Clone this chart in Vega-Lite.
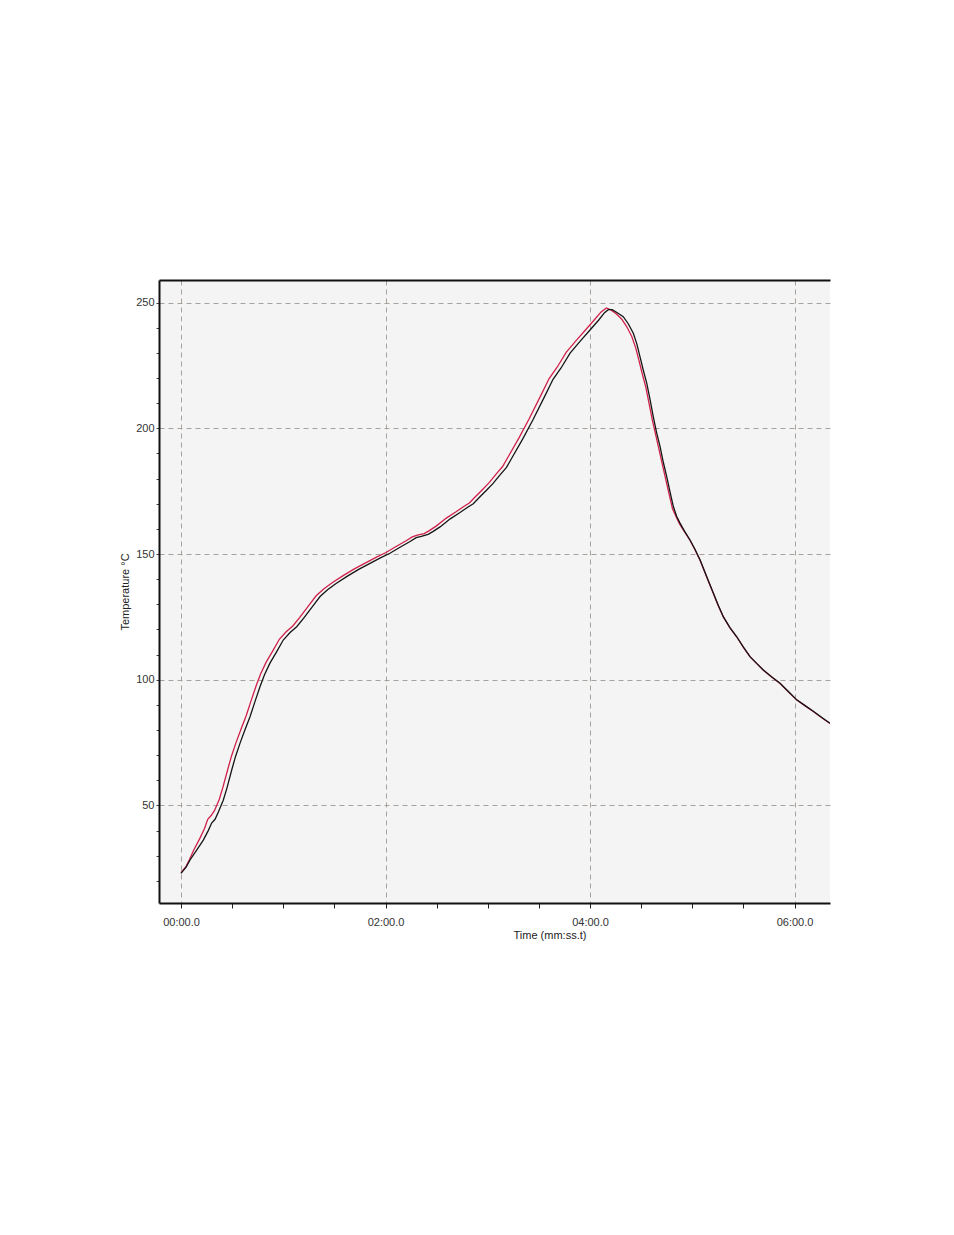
{
  "$schema": "https://vega.github.io/schema/vega-lite/v6.json",
  "autosize": {"type": "none"},
  "width": 671,
  "height": 623,
  "padding": {"left": 159, "top": 280, "right": 124, "bottom": 332},
  "background": "white",
  "view": {"fill": "#f4f4f4", "stroke": null},
  "config": {
    "font": "Liberation Sans",
    "axis": {"labelFont": "Liberation Sans", "titleFont": "Liberation Sans", "labelColor": "#333333", "titleColor": "#222222", "labelFontSize": 11, "titleFontSize": 11, "titleFontWeight": "normal"}
  },
  "data": {"values": [
    {"series": "red", "t": 0, "temp": 23.3},
    {"series": "red", "t": 3, "temp": 25.8},
    {"series": "red", "t": 5, "temp": 28.5},
    {"series": "red", "t": 7.5, "temp": 32.3},
    {"series": "red", "t": 11, "temp": 36.8},
    {"series": "red", "t": 13.8, "temp": 40.8},
    {"series": "red", "t": 15.7, "temp": 44.5},
    {"series": "red", "t": 17.7, "temp": 46},
    {"series": "red", "t": 19.7, "temp": 48},
    {"series": "red", "t": 22.5, "temp": 52.5},
    {"series": "red", "t": 24.7, "temp": 57.5},
    {"series": "red", "t": 27.5, "temp": 64.5},
    {"series": "red", "t": 29.7, "temp": 69.8},
    {"series": "red", "t": 32.3, "temp": 75},
    {"series": "red", "t": 35.2, "temp": 80.3},
    {"series": "red", "t": 38.2, "temp": 85.6},
    {"series": "red", "t": 41.2, "temp": 91.8},
    {"series": "red", "t": 44.1, "temp": 97.6},
    {"series": "red", "t": 46.7, "temp": 102.3},
    {"series": "red", "t": 49.9, "temp": 106.9},
    {"series": "red", "t": 53.7, "temp": 111.3},
    {"series": "red", "t": 57.7, "temp": 116.1},
    {"series": "red", "t": 61.7, "temp": 119.1},
    {"series": "red", "t": 65.6, "temp": 121.4},
    {"series": "red", "t": 69.7, "temp": 124.8},
    {"series": "red", "t": 74.7, "temp": 129.3},
    {"series": "red", "t": 79.3, "temp": 133.4},
    {"series": "red", "t": 83.7, "temp": 136.1},
    {"series": "red", "t": 88.7, "temp": 138.6},
    {"series": "red", "t": 94.9, "temp": 141.3},
    {"series": "red", "t": 101.7, "temp": 144.1},
    {"series": "red", "t": 108.6, "temp": 146.6},
    {"series": "red", "t": 114.7, "temp": 148.8},
    {"series": "red", "t": 120.3, "temp": 150.6},
    {"series": "red", "t": 125.7, "temp": 152.8},
    {"series": "red", "t": 132.1, "temp": 155.3},
    {"series": "red", "t": 135.7, "temp": 156.8},
    {"series": "red", "t": 138.7, "temp": 157.5},
    {"series": "red", "t": 142.7, "temp": 158.1},
    {"series": "red", "t": 145.7, "temp": 159.3},
    {"series": "red", "t": 149.7, "temp": 161.1},
    {"series": "red", "t": 155.7, "temp": 164.3},
    {"series": "red", "t": 161.4, "temp": 166.8},
    {"series": "red", "t": 165.7, "temp": 168.8},
    {"series": "red", "t": 169.2, "temp": 170.3},
    {"series": "red", "t": 172.7, "temp": 172.8},
    {"series": "red", "t": 177.1, "temp": 175.8},
    {"series": "red", "t": 180.7, "temp": 178.3},
    {"series": "red", "t": 184.9, "temp": 181.8},
    {"series": "red", "t": 188.7, "temp": 184.8},
    {"series": "red", "t": 192.5, "temp": 189.3},
    {"series": "red", "t": 198.4, "temp": 196.3},
    {"series": "red", "t": 204.3, "temp": 203.8},
    {"series": "red", "t": 211.3, "temp": 213.3},
    {"series": "red", "t": 216, "temp": 219.8},
    {"series": "red", "t": 220.7, "temp": 224.3},
    {"series": "red", "t": 226, "temp": 230.2},
    {"series": "red", "t": 231.7, "temp": 234.8},
    {"series": "red", "t": 237.7, "temp": 239.4},
    {"series": "red", "t": 242.7, "temp": 243.3},
    {"series": "red", "t": 246.5, "temp": 246.3},
    {"series": "red", "t": 249.6, "temp": 247.9},
    {"series": "red", "t": 252.5, "temp": 247},
    {"series": "red", "t": 255.5, "temp": 245.5},
    {"series": "red", "t": 258.5, "temp": 243.5},
    {"series": "red", "t": 261.5, "temp": 240.5},
    {"series": "red", "t": 264.5, "temp": 236.5},
    {"series": "red", "t": 266.8, "temp": 232},
    {"series": "red", "t": 268.7, "temp": 227},
    {"series": "red", "t": 270.7, "temp": 221.5},
    {"series": "red", "t": 272.7, "temp": 216.5},
    {"series": "red", "t": 274.6, "temp": 210},
    {"series": "red", "t": 276.5, "temp": 203.5},
    {"series": "red", "t": 278.5, "temp": 197.5},
    {"series": "red", "t": 280.5, "temp": 191.5},
    {"series": "red", "t": 282.5, "temp": 185.5},
    {"series": "red", "t": 284.5, "temp": 179.5},
    {"series": "red", "t": 286.5, "temp": 173.5},
    {"series": "red", "t": 288.4, "temp": 168},
    {"series": "red", "t": 290.5, "temp": 164.8},
    {"series": "red", "t": 292.5, "temp": 162},
    {"series": "red", "t": 295.5, "temp": 158.8},
    {"series": "red", "t": 298.7, "temp": 155.4},
    {"series": "red", "t": 301.5, "temp": 151.8},
    {"series": "red", "t": 304.6, "temp": 147.4},
    {"series": "red", "t": 308.5, "temp": 140.8},
    {"series": "red", "t": 312.4, "temp": 134.2},
    {"series": "red", "t": 315.3, "temp": 129.3},
    {"series": "red", "t": 318.2, "temp": 125},
    {"series": "red", "t": 322, "temp": 120.7},
    {"series": "red", "t": 326.1, "temp": 117},
    {"series": "red", "t": 330, "temp": 112.9},
    {"series": "red", "t": 333.9, "temp": 109.1},
    {"series": "red", "t": 337.8, "temp": 106.4},
    {"series": "red", "t": 341.7, "temp": 103.8},
    {"series": "red", "t": 346.5, "temp": 101.1},
    {"series": "red", "t": 351.5, "temp": 98.5},
    {"series": "red", "t": 356.5, "temp": 95.1},
    {"series": "red", "t": 361.3, "temp": 91.9},
    {"series": "red", "t": 366, "temp": 89.7},
    {"series": "red", "t": 371, "temp": 87.4},
    {"series": "red", "t": 376, "temp": 84.9},
    {"series": "red", "t": 380.8, "temp": 82.6},
    {"series": "black", "t": 0, "temp": 23},
    {"series": "black", "t": 3, "temp": 25.5},
    {"series": "black", "t": 5.3, "temp": 28.3},
    {"series": "black", "t": 9, "temp": 32},
    {"series": "black", "t": 13.1, "temp": 36.2},
    {"series": "black", "t": 16, "temp": 40},
    {"series": "black", "t": 18, "temp": 43},
    {"series": "black", "t": 20, "temp": 44.5},
    {"series": "black", "t": 22, "temp": 47.5},
    {"series": "black", "t": 24.8, "temp": 52.1},
    {"series": "black", "t": 27, "temp": 57},
    {"series": "black", "t": 29.8, "temp": 64.2},
    {"series": "black", "t": 32, "temp": 69.5},
    {"series": "black", "t": 34.6, "temp": 74.7},
    {"series": "black", "t": 37.5, "temp": 80},
    {"series": "black", "t": 40.5, "temp": 85.3},
    {"series": "black", "t": 43.5, "temp": 91.5},
    {"series": "black", "t": 46.4, "temp": 97.3},
    {"series": "black", "t": 49, "temp": 102},
    {"series": "black", "t": 52.2, "temp": 106.6},
    {"series": "black", "t": 56, "temp": 111},
    {"series": "black", "t": 60, "temp": 115.8},
    {"series": "black", "t": 64, "temp": 118.8},
    {"series": "black", "t": 67.9, "temp": 121.1},
    {"series": "black", "t": 72, "temp": 124.5},
    {"series": "black", "t": 77, "temp": 129},
    {"series": "black", "t": 81.6, "temp": 133.1},
    {"series": "black", "t": 86, "temp": 135.8},
    {"series": "black", "t": 91, "temp": 138.3},
    {"series": "black", "t": 97.2, "temp": 141},
    {"series": "black", "t": 104, "temp": 143.8},
    {"series": "black", "t": 110.9, "temp": 146.3},
    {"series": "black", "t": 117, "temp": 148.5},
    {"series": "black", "t": 122.6, "temp": 150.3},
    {"series": "black", "t": 128, "temp": 152.5},
    {"series": "black", "t": 134.4, "temp": 155},
    {"series": "black", "t": 138, "temp": 156.5},
    {"series": "black", "t": 141, "temp": 157},
    {"series": "black", "t": 145, "temp": 157.8},
    {"series": "black", "t": 148, "temp": 159},
    {"series": "black", "t": 152, "temp": 160.8},
    {"series": "black", "t": 158, "temp": 164},
    {"series": "black", "t": 163.7, "temp": 166.5},
    {"series": "black", "t": 168, "temp": 168.5},
    {"series": "black", "t": 171.5, "temp": 170},
    {"series": "black", "t": 175, "temp": 172.5},
    {"series": "black", "t": 179.4, "temp": 175.5},
    {"series": "black", "t": 183, "temp": 178},
    {"series": "black", "t": 187.2, "temp": 181.5},
    {"series": "black", "t": 191, "temp": 184.5},
    {"series": "black", "t": 194.8, "temp": 189},
    {"series": "black", "t": 200.7, "temp": 196},
    {"series": "black", "t": 206.6, "temp": 203.5},
    {"series": "black", "t": 213.6, "temp": 213},
    {"series": "black", "t": 218.3, "temp": 219.5},
    {"series": "black", "t": 223, "temp": 224},
    {"series": "black", "t": 228.3, "temp": 229.9},
    {"series": "black", "t": 234, "temp": 234.5},
    {"series": "black", "t": 240, "temp": 239.1},
    {"series": "black", "t": 245, "temp": 243},
    {"series": "black", "t": 248.5, "temp": 246},
    {"series": "black", "t": 250.7, "temp": 247.2},
    {"series": "black", "t": 253, "temp": 247.2},
    {"series": "black", "t": 256, "temp": 246},
    {"series": "black", "t": 259.5, "temp": 244.4},
    {"series": "black", "t": 262.5, "temp": 241.5},
    {"series": "black", "t": 265.4, "temp": 237.8},
    {"series": "black", "t": 267.5, "temp": 233.5},
    {"series": "black", "t": 269.3, "temp": 228.5},
    {"series": "black", "t": 271.3, "temp": 223},
    {"series": "black", "t": 273.3, "temp": 217.9},
    {"series": "black", "t": 275.2, "temp": 211.5},
    {"series": "black", "t": 277.1, "temp": 204.7},
    {"series": "black", "t": 279, "temp": 198.5},
    {"series": "black", "t": 281.1, "temp": 192.7},
    {"series": "black", "t": 283, "temp": 186.5},
    {"series": "black", "t": 285, "temp": 180.8},
    {"series": "black", "t": 287, "temp": 174.5},
    {"series": "black", "t": 288.9, "temp": 168.9},
    {"series": "black", "t": 290.8, "temp": 165},
    {"series": "black", "t": 292.8, "temp": 162.3},
    {"series": "black", "t": 295.5, "temp": 159},
    {"series": "black", "t": 298.7, "temp": 155.6},
    {"series": "black", "t": 301.5, "temp": 152},
    {"series": "black", "t": 304.6, "temp": 147.6},
    {"series": "black", "t": 308.5, "temp": 141},
    {"series": "black", "t": 312.4, "temp": 134.4},
    {"series": "black", "t": 315.3, "temp": 129.5},
    {"series": "black", "t": 318.2, "temp": 125.1},
    {"series": "black", "t": 322, "temp": 120.8},
    {"series": "black", "t": 326.1, "temp": 117.1},
    {"series": "black", "t": 330, "temp": 113},
    {"series": "black", "t": 333.9, "temp": 109.2},
    {"series": "black", "t": 337.8, "temp": 106.5},
    {"series": "black", "t": 341.7, "temp": 103.9},
    {"series": "black", "t": 346.5, "temp": 101.2},
    {"series": "black", "t": 351.5, "temp": 98.6},
    {"series": "black", "t": 356.5, "temp": 95.2},
    {"series": "black", "t": 361.3, "temp": 92},
    {"series": "black", "t": 366, "temp": 89.8},
    {"series": "black", "t": 371, "temp": 87.5},
    {"series": "black", "t": 376, "temp": 85},
    {"series": "black", "t": 380.8, "temp": 82.7}
  ]},
  "resolve": {"axis": {"x": "independent", "y": "independent"}},
  "layer": [
    {
      "transform": [{"filter": "datum.series === 'red'"}],
      "mark": {"type": "line", "color": "#d0204a", "strokeWidth": 1.3, "clip": true},
      "encoding": {
        "x": {
          "field": "t", "type": "quantitative",
          "scale": {"domain": [-12.9, 380.8], "nice": false, "zero": false},
          "axis": {
            "orient": "bottom",
            "values": [0, 30, 60, 90, 120, 150, 180, 210, 240, 270, 300, 330, 360],
            "labelExpr": "datum.value % 120 === 0 ? '0' + (datum.value / 60) + ':00.0' : ''",
            "domainColor": "#111111", "domainWidth": 2,
            "tickColor": "#222222", "tickSize": 5, "tickWidth": 1,
            "labelPadding": 8, "labelFlush": false,
            "grid": true, "gridColor": "#a8a29c", "gridWidth": 1, "gridDash": [5, 4],
            "gridOpacity": {"condition": {"test": "datum.value % 120 === 0", "value": 1}, "value": 0},
            "title": "Time (mm:ss.t)",
            "titleX": 354, "titleY": 32, "titleAlign": "left", "titleBaseline": "middle", "titleAnchor": null
          }
        },
        "y": {
          "field": "temp", "type": "quantitative",
          "scale": {"domain": [11.2, 259], "nice": false, "zero": false},
          "axis": {
            "values": [20, 30, 40, 50, 60, 70, 80, 90, 100, 110, 120, 130, 140, 150, 160, 170, 180, 190, 200, 210, 220, 230, 240, 250],
            "labelExpr": "datum.value % 50 === 0 ? datum.label : ''",
            "format": "d",
            "domainColor": "#111111", "domainWidth": 2,
            "tickColor": "#444444", "tickSize": 3, "tickWidth": 1,
            "labelPadding": 2,
            "grid": true, "gridColor": "#a8a29c", "gridWidth": 1, "gridDash": [5, 4],
            "gridOpacity": {"condition": {"test": "datum.value % 50 === 0", "value": 1}, "value": 0},
            "title": "Temperature °C", "titlePadding": 5
          }
        }
      }
    },
    {
      "transform": [{"filter": "datum.series === 'black'"}],
      "mark": {"type": "line", "color": "#151515", "strokeWidth": 1.3, "clip": true},
      "encoding": {
        "x": {
          "field": "t", "type": "quantitative",
          "axis": {"orient": "top", "labels": false, "ticks": false, "grid": false, "title": null, "domainColor": "#111111", "domainWidth": 2}
        },
        "y": {"field": "temp", "type": "quantitative", "axis": null}
      }
    }
  ]
}
